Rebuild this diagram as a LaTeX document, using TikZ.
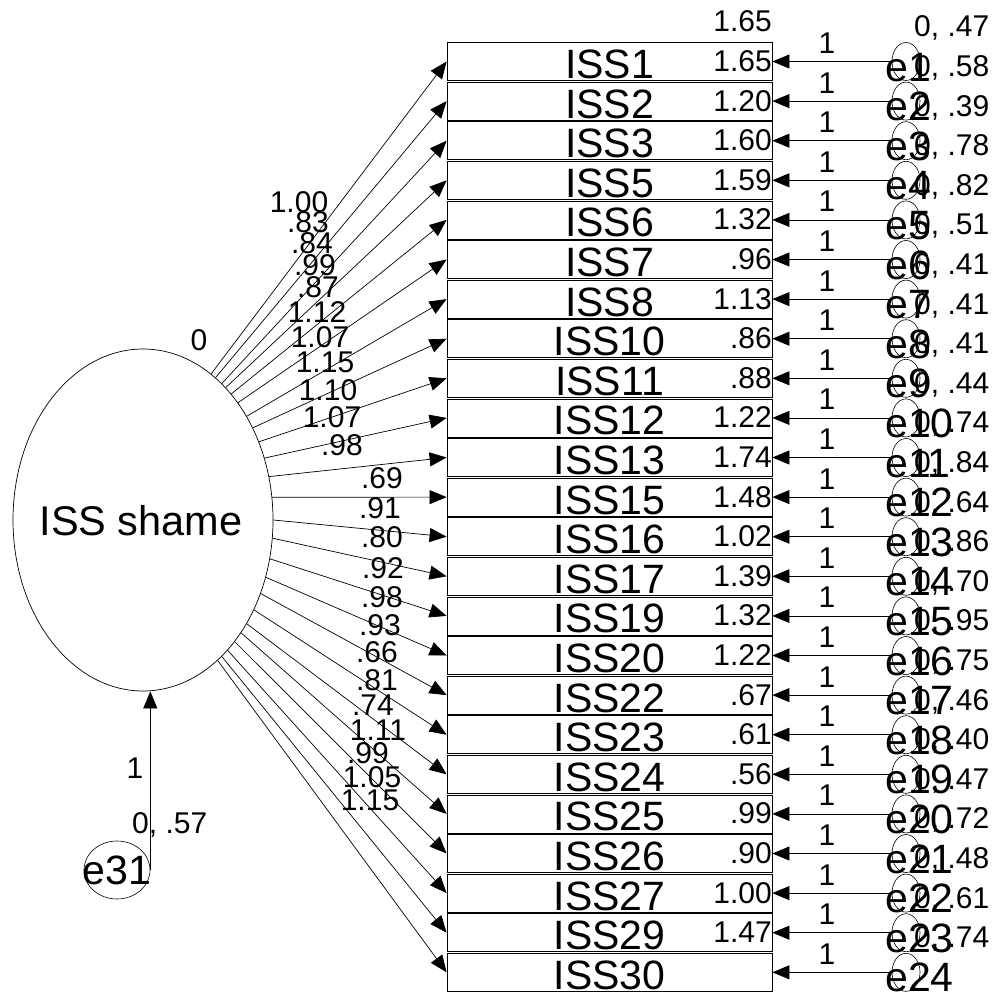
\documentclass[tikz,border=0pt]{standalone}
\usepackage{fontspec}
\setmainfont{Liberation Sans}
\usetikzlibrary{arrows.meta,shapes.geometric}
\begin{document}
\begin{tikzpicture}[x=1pt,y=-1pt,
  box/.style={draw, line width=0.8pt, minimum width=325pt, minimum height=38pt, inner sep=0pt},
  arr/.style={-{Triangle[length=17pt,width=14pt]}, line width=0.7pt},
  big/.style={font=\fontsize{41}{41}\selectfont, inner sep=0pt},
  small/.style={font=\fontsize{30}{30}\selectfont, inner sep=0pt},
  ecirc/.style={draw, ellipse, minimum width=28pt, minimum height=38pt, inner sep=0pt, line width=0.6pt},
  latent/.style={draw, ellipse, inner sep=0pt, line width=0.7pt}
]
\useasboundingbox (0,0) rectangle (1001,994);

% latent variable
\node[latent, minimum width=260pt, minimum height=342pt] (shame) at (143,520) {};
\node[font=\fontsize{41.5}{41.5}\selectfont, inner sep=0pt] (shamet) at (141,521) {ISS shame};
\node[small] (mu) at (199,340) {0};

% disturbance
\node[latent, minimum width=66pt, minimum height=58pt, line width=0.6pt, font=\fontsize{41}{41}\selectfont] (e31) at (117,870) {\makebox[0pt]{e31}};
\draw[arr] (e31.east) -- (e31.east |- shame.south);
\node[small] (one31) at (135,768) {1};
\node[small, anchor=base west] (v31) at (132,833) {0, .57};

% indicator boxes
\foreach \t [count=\i] in {ISS1,ISS2,ISS3,ISS5,ISS6,ISS7,ISS8,ISS10,ISS11,ISS12,ISS13,ISS15,ISS16,ISS17,ISS19,ISS20,ISS22,ISS23,ISS24,ISS25,ISS26,ISS27,ISS29,ISS30} {
  \pgfmathsetmacro\c{61.5+39.6*(\i-1)}
  \node[box] (b\i) at (609.5,\c) {};
  \node[big, anchor=base] (bt\i) at (609.5,\c+17) {\t};
}

% loadings
\foreach \a [count=\i] in {65.5,63.3,60.7,58.2,55.0,51.2,45.8,40.5,34.8,27.3,19.0,10.5,0.9,-8.4,-17.9,-25.4,-32.7,-39.9,-45.3,-49.9,-53.8,-57.5,-60.7,-62.6} {
  \draw[arr] (shame.\a) -- (b\i.west);
}
\foreach \l/\x/\y [count=\i] in {1.00/299/202, .83/308/222, .84/312/243, .99/315/265, .87/318/287, 1.12/317/312, 1.07/320/337, 1.15/325/362, 1.10/328/390, 1.07/332/417, .98/342/445, .69/382/478, .91/380/508, .80/382/537, .92/383/568, .98/382/597, .93/380/625, .66/377/652, .81/377/680, .74/373/705, 1.11/378/730, .99/368/753, 1.05/372/777, 1.15/370/800} {
  \node[small] (l\i) at (\x,\y) {\l};
}

% error terms
\foreach \i in {1,...,24} {
  \pgfmathsetmacro\c{61.5+39.6*(\i-1)}
  \node[ecirc] (e\i) at (906,\c) {};
  \draw[arr] (e\i.west) -- (b\i.east);
  \node[small, anchor=base] (one\i) at (827,\c-8) {1};
  \node[big, anchor=base west] (et\i) at (885,\c+19.5) {e\i};
}

% intercepts
\foreach \m [count=\k from 0] in {1.65,1.65,1.20,1.60,1.59,1.32,.96,1.13,.86,.88,1.22,1.74,1.48,1.02,1.39,1.32,1.22,.67,.61,.56,.99,.90,1.00,1.47} {
  \pgfmathsetmacro\c{61.5+39.6*(\k-1)}
  \node[small, anchor=base east] (m\k) at (772,\c+10) {\m};
}

% variances
\foreach \v [count=\k from 0] in {.47,.58,.39,.78,.82,.51,.41,.41,.41,.44,.74,.84,.64,.86,.70,.95,.75,.46,.40,.47,.72,.48,.61,.74} {
  \pgfmathsetmacro\c{61.5+39.6*(\k-1)}
  \node[small, anchor=base west] (v\k) at (914,\c+15) {0, \v};
}
\end{tikzpicture}
\end{document}
